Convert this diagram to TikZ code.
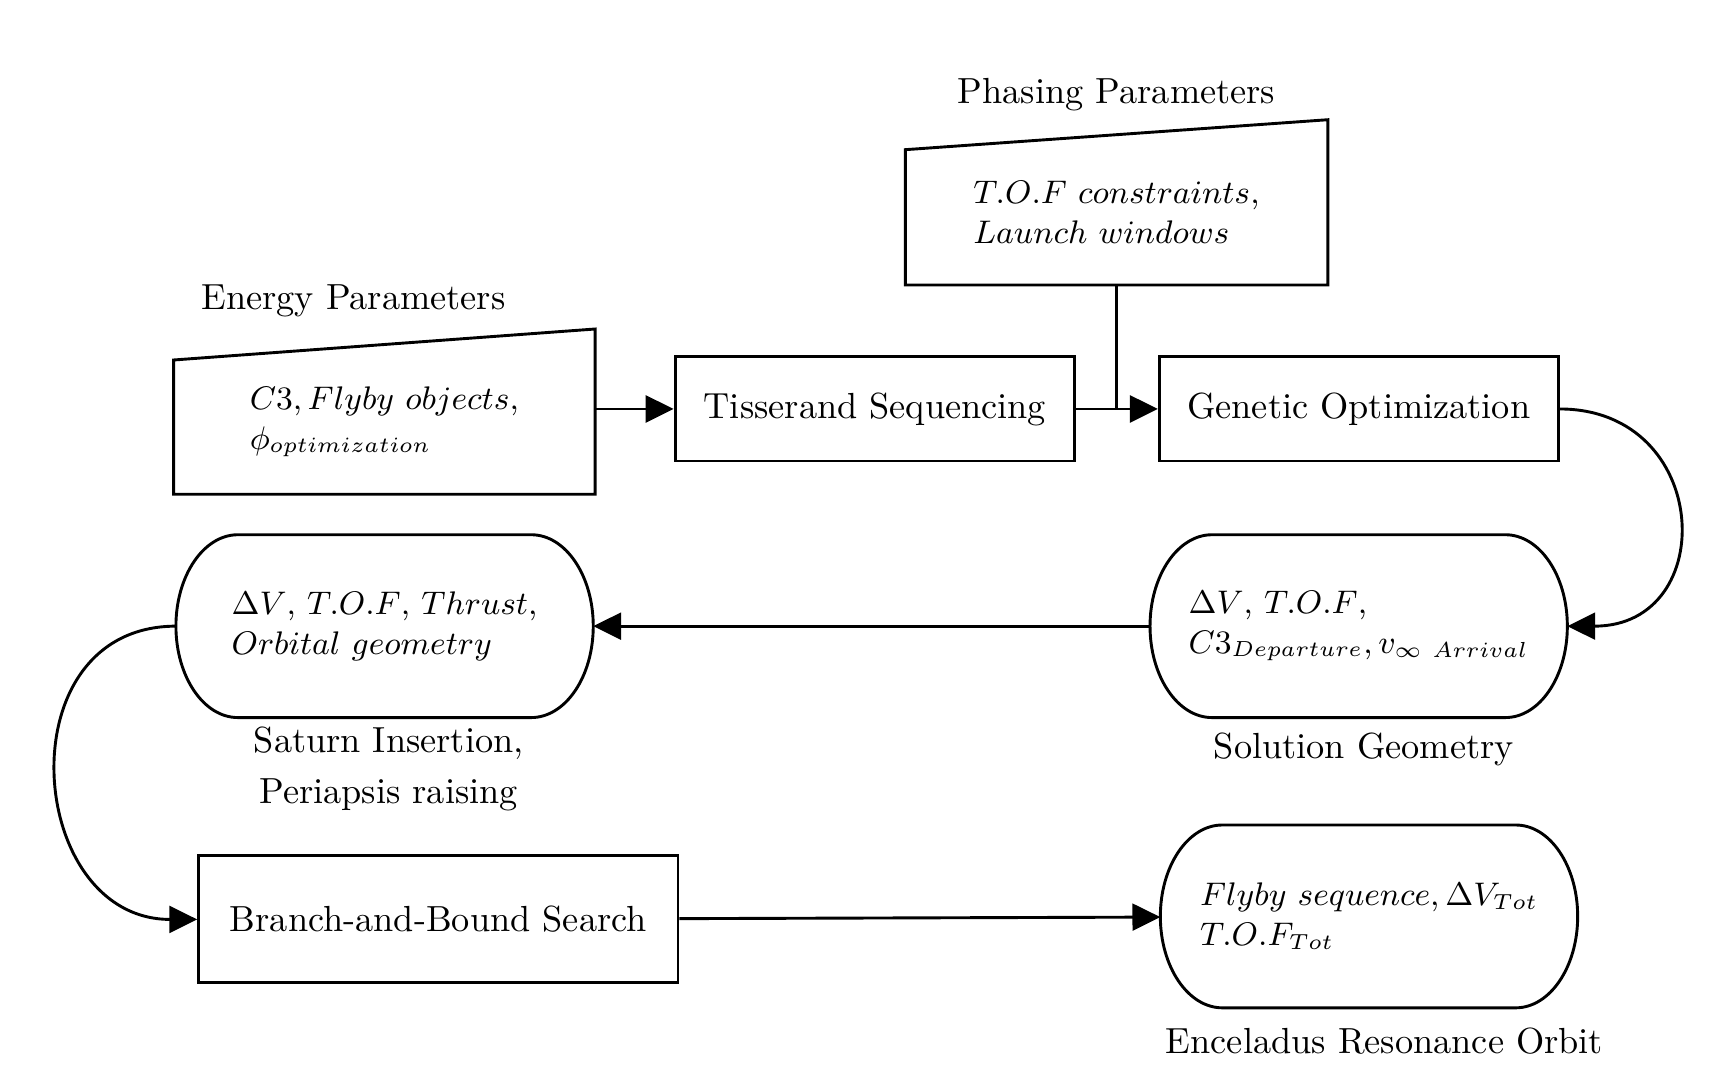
\documentclass[tikz,border=0pt]{standalone}
\usetikzlibrary{positioning,arrows.meta}

\begin{document}
\begin{tikzpicture}[
  node distance=0.8cm,
  box/.style={draw, thick, minimum height=1.007cm, align=center},
  term/.style={minimum width=4.04cm, minimum height=1.77cm, outer sep=0pt, align=left, font=\small},
  manual/.style={minimum width=4.08cm, minimum height=1.2cm, outer sep=0pt, align=left, font=\small},
  lbl/.style={align=center},
  arrow/.style={-{Triangle[length=2.7mm,width=2.6mm]}, thick}
]
\useasboundingbox (0,0) rectangle (16.593,10.513);
\node[box, minimum width=3.87cm] (tis) at (8.47,6.554) {Tisserand Sequencing};
\node[box, right=0.79cm of tis, minimum width=3.86cm] (gen) {Genetic Optimization};
\node[manual, left=0.76cm of tis, yshift=-0.126cm] (energy) {$C3, Flyby\ objects$,\\ $\phi_{optimization}$};
\coordinate[right=0.39cm of tis.east] (join);
\node[manual, above=1.3cm of join, minimum width=4.09cm, minimum height=1.21cm] (phase) {$T.O.F\ constraints$,\\ $Launch\ windows$};
\node[term, below=0.70cm of gen] (sol) {$\Delta V$, $T.O.F$,\\ $C3_{Departure}, v_{\infty\ Arrival}$};
\node[term, left=5.39cm of sol] (sat) {$\Delta V$, $T.O.F$, $Thrust$,\\ $Orbital\ geometry$};
\node[box, below=1.325cm of sat, xshift=0.52cm, minimum width=4.64cm, minimum height=1.23cm] (bnb) {Branch-and-Bound Search};
\node[term, below=1.04cm of sol, xshift=0.1cm] (enc) {$Flyby\ sequence, \Delta V_{Tot}$\\ $T.O.F_{Tot}$};

\node[lbl, above=0.29cm of energy, xshift=-0.3cm] (energylbl) {Energy Parameters};
\node[lbl, above=0.25cm of phase] (phaselbl) {Phasing Parameters};
\node[lbl, below=0.02cm of sol, xshift=0.05cm] (sollbl) {Solution Geometry};
\node[lbl, below=-0.03cm of sat, xshift=0.04cm] (satlbl) {Saturn Insertion,\\[2pt] Periapsis raising};
\node[lbl, below=0.07cm of enc, xshift=0.15cm] (enclbl) {Enceladus Resonance Orbit};

\draw[thick] ([yshift=-0.1cm]energy.south west) -- ([yshift=-0.1cm]energy.south east) -- ([yshift=0.3cm]energy.north east) -- (energy.north west) -- cycle;
\draw[thick] ([yshift=-0.1cm]phase.south west) -- ([yshift=-0.1cm]phase.south east) -- ([yshift=0.29cm]phase.north east) -- (phase.north west) -- cycle;
\foreach \n in {sol,sat,enc}
  \draw[thick] ([xshift=0.6cm]\n.north west) -- ([xshift=-0.6cm]\n.north east)
    arc[start angle=90, end angle=-90, x radius=0.6cm, y radius=0.885cm]
    -- ([xshift=0.6cm]\n.south west)
    arc[start angle=270, end angle=90, x radius=0.6cm, y radius=0.885cm] -- cycle;

\draw[arrow] (energy.east |- tis) -- (tis);
\draw[arrow] (tis) -- (gen);
\draw[thick] ([yshift=-0.1cm]phase.south) -- (join);
\draw[arrow] (gen.east) to[out=0, in=0, looseness=1.8] (sol.east);
\draw[arrow] (sol) -- (sat);
\draw[arrow] (sat.west) to[out=180, in=180, looseness=1.5] (bnb.west);
\draw[arrow] (bnb) -- (enc);
\end{tikzpicture}
\end{document}
